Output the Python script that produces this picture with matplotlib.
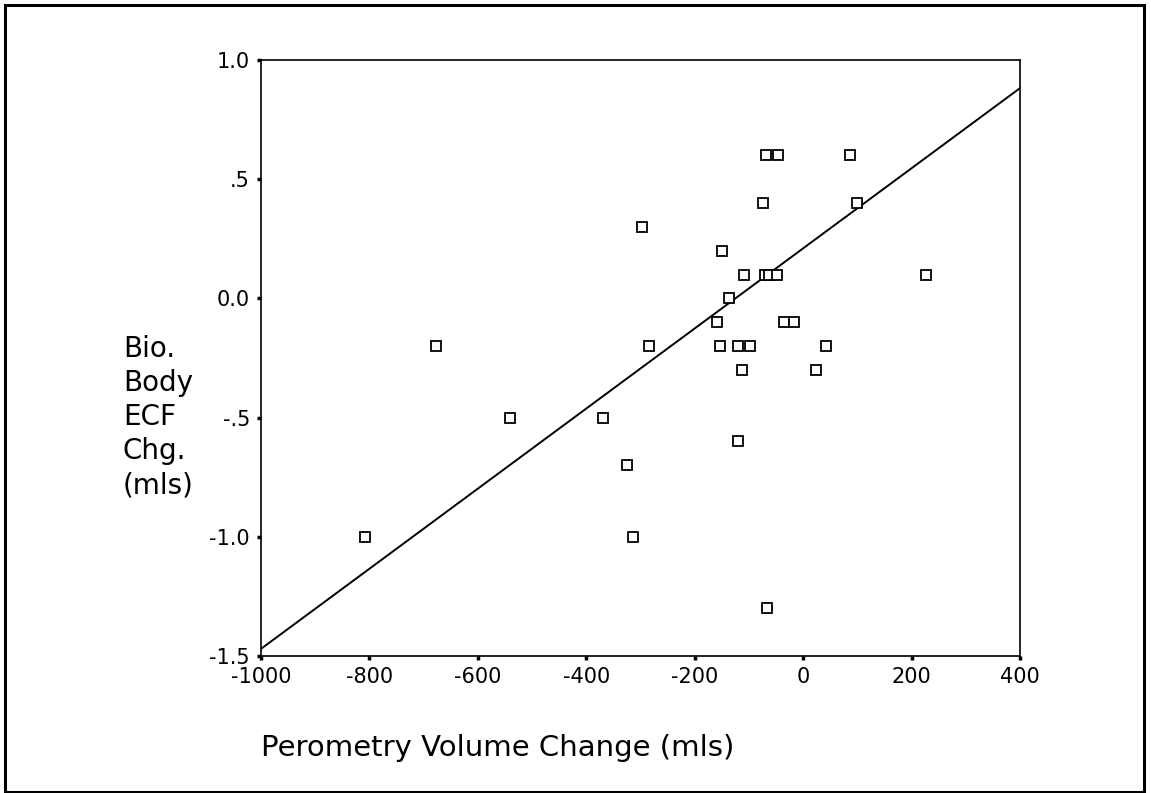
import matplotlib
matplotlib.use('Agg')
import matplotlib.pyplot as plt
from matplotlib.patches import Rectangle
from matplotlib.ticker import FuncFormatter
import numpy as np

# perometry volume change (mls) vs bio-impedance ECF change
perometry = [-68, -46, 87, -74, 100, -298, -150,
             -109, -70, -63, -48, 226, -137,
             -159, -35, -17,
             -678, -285, -153, -120, -98, 43,
             -113, 24, -540, -370, -120, -325,
             -808, -314, -67]
ecf_change = [0.6, 0.6, 0.6, 0.4, 0.4, 0.3, 0.2,
              0.1, 0.1, 0.1, 0.1, 0.1, 0.0,
              -0.1, -0.1, -0.1,
              -0.2, -0.2, -0.2, -0.2, -0.2, -0.2,
              -0.3, -0.3, -0.5, -0.5, -0.6, -0.7,
              -1.0, -1.0, -1.3]

# fitted line
fit_slope = 0.00168
fit_intercept = 0.21

x_ticks = [-1000, -800, -600, -400, -200, 0, 200, 400]
y_ticks = [-1.5, -1.0, -0.5, 0.0, 0.5, 1.0]
y_tick_labels = ['-1.5', '-1.0', '-.5', '0.0', '.5', '1.0']

plt.rcParams['font.family'] = ['DejaVu Sans']
plt.rcParams['axes.unicode_minus'] = False

fig = plt.figure(figsize=(11.51, 7.93), dpi=100)
ax = fig.add_axes([261 / 1151, 1 - 656 / 793, 759 / 1151, 596 / 793])

xs = np.array([-1000, 400])
ax.plot(xs, fit_intercept + fit_slope * xs, color='black', linewidth=1.4, zorder=2)
ax.plot(perometry, ecf_change, linestyle='none', marker='s', markersize=6.5,
        markerfacecolor='white', markeredgecolor='black', markeredgewidth=1.3,
        zorder=3)

ax.set_xlim(-1000, 400)
ax.set_ylim(-1.5, 1.0)
ax.set_xticks(x_ticks)
ax.set_yticks(y_ticks)
ax.yaxis.set_major_formatter(FuncFormatter(
    lambda v, pos: y_tick_labels[y_ticks.index(round(v, 1))]))
ax.tick_params(direction='out', length=3, width=2.5, labelsize=15, pad=5)
for s in ax.spines.values():
    s.set_linewidth(1.2)

ax.set_xlabel('Perometry Volume Change (mls)', fontsize=21, labelpad=34,
              loc='left')
fig.text(123 / 1151, 1 - 417 / 793, 'Bio.\nBody\nECF\nChg.\n(mls)',
         fontsize=20, ha='left', va='center', linespacing=1.28)

# outer frame around the whole picture
fig.patches.append(Rectangle((5 / 1151, 1 / 793), 1139 / 1151, 787 / 793,
                             transform=fig.transFigure, fill=False,
                             edgecolor='black', linewidth=2.2))

fig.savefig('out.png', dpi=100)
